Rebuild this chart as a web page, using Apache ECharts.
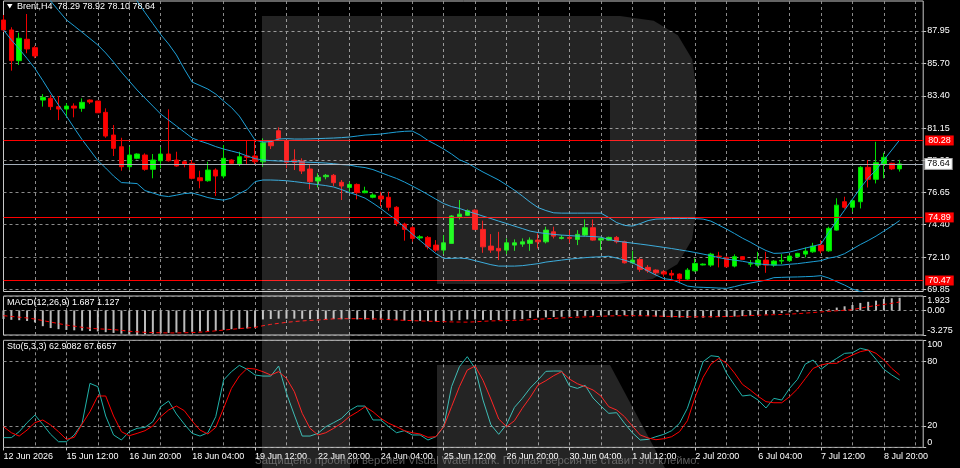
<!DOCTYPE html>
<html>
<head>
<meta charset="utf-8">
<title>Brent H4</title>
<script src="https://cdn.jsdelivr.net/npm/echarts@6/dist/echarts.min.js"></script>
<style>
  html, body { margin: 0; padding: 0; background: #000; }
  #chart { width: 960px; height: 468px; }
</style>
</head>
<body>
<div id="chart"></div>
<script>
// Brent H4 bars, first visible bar 12 Jun 04:00, last 9 Jul 04:00
var opens = [88.72,88.02,85.87,87.37,86.78,83.11,83.23,82.65,82.48,82.69,82.53,83.11,83.04,82.25,80.66,79.84,78.44,79.03,79.26,78.26,
  78.86,79.33,78.91,78.79,78.68,77.67,77.46,78.21,77.79,78.91,78.63,79.19,79.19,78.79,80.19,80.96,80.26,78.91,78.84,78.28,
  77.44,77.74,77.84,77.35,76.99,77.20,76.62,76.30,76.39,76.30,75.60,74.42,74.17,73.45,73.49,72.95,72.60,73.07,74.94,75.04,
  75.40,74.05,72.88,72.72,72.60,72.95,73.02,73.07,73.30,73.18,73.88,73.42,73.49,73.35,73.65,74.17,73.30,73.30,73.49,73.18,
  71.71,71.95,71.39,71.20,71.08,70.97,70.92,70.57,71.15,71.56,71.55,72.18,72.09,71.48,72.14,71.62,71.55,71.90,71.55,71.83,
  71.86,72.14,72.32,72.48,72.95,72.55,74.00,75.99,75.60,75.99,78.40,77.56,78.63,78.68,78.29];
var closes = [88.02,85.87,87.44,86.69,86.20,83.30,82.65,82.48,82.69,82.55,82.95,82.97,82.22,80.59,79.73,78.44,79.26,79.33,78.26,78.91,
  79.33,78.86,78.49,78.63,77.63,77.46,78.21,77.79,79.03,78.68,79.14,79.10,78.79,80.12,79.91,80.43,78.75,78.75,78.14,77.39,
  77.70,77.84,77.32,77.09,77.20,76.62,76.74,76.46,76.18,75.60,74.47,74.05,73.42,73.53,72.83,72.60,73.11,74.99,75.12,75.36,
  74.05,72.83,72.60,72.55,73.11,73.11,73.18,73.30,73.18,74.00,73.58,73.49,73.42,73.70,74.17,73.30,73.42,73.49,73.18,71.71,
  71.90,71.25,71.15,71.01,70.92,70.85,70.59,71.20,71.67,71.62,72.32,72.14,71.43,72.14,71.95,71.65,71.90,71.55,71.83,71.88,
  72.18,72.37,72.53,72.88,72.55,74.12,75.75,75.60,76.06,78.40,77.56,78.72,79.10,78.29,78.64];
var lows = [87.88,85.17,85.57,86.39,86.04,82.65,82.41,81.71,81.90,81.90,82.29,82.83,82.20,80.47,79.19,78.16,78.21,78.96,78.16,77.63,
  78.33,78.80,78.44,78.40,77.56,76.93,77.39,76.39,77.63,78.60,78.49,78.56,78.63,78.44,79.68,80.31,78.33,78.21,77.93,76.86,
  76.99,77.56,77.09,76.11,76.69,76.16,76.58,76.23,75.68,75.36,74.28,73.26,73.19,73.30,72.65,72.48,72.32,73.04,74.75,74.99,
  74.00,72.41,72.41,71.90,72.32,72.55,72.83,72.55,72.72,73.07,73.42,73.35,73.11,72.95,73.58,73.26,72.60,73.26,73.07,71.66,
  71.62,71.08,71.01,70.85,70.73,70.55,70.27,70.50,71.08,71.53,71.43,71.39,71.39,71.39,71.90,71.43,71.43,71.01,71.43,71.62,
  71.79,72.09,72.09,72.41,72.37,72.48,73.96,75.50,75.29,75.52,76.99,77.27,77.63,78.21,78.10];
var highs = [89.07,88.21,87.83,89.14,86.92,83.53,83.46,83.39,82.88,82.88,83.23,83.16,83.06,82.53,81.36,80.47,79.84,79.38,79.38,79.33,
  79.80,82.46,79.49,78.86,78.91,78.16,78.79,78.33,79.96,78.96,79.49,80.26,80.26,80.43,80.31,81.20,80.31,79.66,79.03,78.56,
  77.98,77.93,77.93,77.51,77.39,77.27,77.04,76.58,76.69,76.69,75.68,74.52,74.28,73.65,73.59,73.30,73.65,75.06,76.11,75.45,
  75.45,74.66,73.72,73.88,73.42,73.35,73.42,73.49,73.77,74.24,74.24,73.65,74.00,74.00,74.75,74.75,73.49,73.54,73.59,73.26,
  72.55,72.09,71.55,71.25,71.20,71.20,70.97,71.34,72.02,71.67,72.41,72.48,72.16,72.30,72.18,71.90,72.48,72.48,71.90,72.32,
  72.27,72.41,72.79,73.11,73.30,74.24,76.23,76.34,76.16,78.49,78.91,80.19,79.42,78.72,78.92];

// Bollinger Bands
var bbUpper = [97.3,97.2,97.1,96.9,96.7,96.5,96.2,95.8,95.4,95.0,94.6,94.1,93.6,93.0,92.3,91.6,90.85,90.05,89.24,88.47,
  87.70,87.04,86.27,85.28,84.37,84.13,83.88,83.53,83.04,82.59,81.99,81.15,80.31,80.17,80.20,80.38,80.41,80.38,80.38,80.39,
  80.41,80.43,80.45,80.48,80.52,80.59,80.66,80.69,80.73,80.80,80.87,80.92,80.94,80.66,80.28,79.99,79.68,79.33,78.93,78.70,
  78.38,78.07,77.79,77.51,77.16,76.80,76.39,75.96,75.58,75.37,75.21,75.19,75.19,75.19,75.19,75.19,75.19,74.88,74.53,74.33,
  74.28,74.46,74.67,74.77,74.79,74.81,74.81,74.82,74.81,74.77,74.63,74.35,74.07,73.76,73.44,73.16,72.85,72.57,72.37,72.39,
  72.46,72.60,72.74,72.87,73.02,73.86,74.63,75.40,76.17,76.94,77.65,78.21,78.91,79.61,80.31];
var bbMiddle = [93.8,93.3,92.8,92.2,91.5,90.8,90.05,89.38,88.73,88.30,87.86,87.42,86.97,86.41,85.77,85.07,84.44,83.81,83.25,82.69,
  82.13,81.71,81.29,80.87,80.45,80.24,80.06,79.85,79.68,79.54,79.40,79.19,79.01,78.91,78.87,78.84,78.82,78.80,78.77,78.75,
  78.73,78.70,78.65,78.59,78.56,78.45,78.38,78.24,78.03,77.82,77.62,77.37,77.09,76.80,76.49,76.17,75.86,75.65,75.52,75.33,
  75.16,74.98,74.81,74.63,74.46,74.28,74.11,73.93,73.83,73.76,73.70,73.65,73.62,73.58,73.57,73.55,73.51,73.34,73.23,73.16,
  73.09,73.02,72.95,72.87,72.79,72.71,72.62,72.53,72.43,72.32,72.21,72.07,71.97,71.90,71.82,71.72,71.64,71.58,71.55,71.55,
  71.61,71.65,71.72,71.79,71.86,72.04,72.14,72.35,72.67,72.99,73.27,73.58,73.93,74.28,74.67];
var bbLower = [88.02,87.32,86.69,86.02,85.32,84.48,83.60,82.76,81.99,81.15,80.34,79.61,78.87,78.35,77.79,77.33,77.30,77.26,76.77,76.60,
  76.42,76.35,76.45,76.56,76.60,76.45,76.28,76.17,76.10,76.24,76.56,76.84,77.40,77.51,77.51,77.49,77.46,77.40,77.33,77.26,
  77.19,77.12,77.02,76.84,76.63,76.45,76.24,75.89,75.51,75.09,74.70,74.21,73.72,73.27,72.81,72.36,72.02,72.02,72.04,72.00,
  71.86,71.72,71.58,71.48,71.48,71.48,71.51,71.58,71.65,71.76,71.83,71.90,71.97,72.02,72.07,72.11,72.13,72.17,72.04,71.90,
  71.72,71.44,71.13,70.85,70.60,70.53,70.32,70.08,70.01,69.99,69.97,69.94,69.92,70.04,70.18,70.29,70.39,70.50,70.67,70.69,
  70.71,70.72,70.74,70.76,70.81,70.64,70.39,70.15,69.87,69.70,69.55,69.40,69.25,69.12,69.03];

// MACD(12,26,9)
var macdMain = [-1.15,-1.25,-1.3,-1.4,-1.6,-2.1,-2.35,-2.5,-2.6,-2.65,-2.7,-2.75,-2.8,-2.9,-3.0,-3.1,-3.2,-3.275,-3.2,-3.12,
  -3.05,-3.0,-2.95,-2.9,-2.85,-2.8,-2.75,-2.7,-2.6,-2.5,-2.45,-2.4,-2.35,-1.2,-1.15,-1.1,-1.1,-1.1,-1.12,-1.15,
  -1.15,-1.15,-1.15,-1.18,-1.18,-1.2,-1.2,-1.22,-1.25,-1.28,-1.3,-1.35,-1.38,-1.4,-1.42,-1.45,-1.45,-1.35,-1.3,-1.2,
  -1.2,-1.25,-1.28,-1.28,-1.25,-1.2,-1.15,-1.0,-0.95,-0.92,-0.88,-0.85,-0.83,-0.78,-0.72,-0.70,-0.68,-0.64,-0.62,-0.64,
  -0.68,-0.72,-0.76,-0.82,-0.88,-0.92,-0.96,-1.0,-0.98,-0.96,-0.92,-0.88,-0.86,-0.8,-0.75,-0.7,-0.62,-0.55,-0.45,-0.35,
  -0.27,-0.18,-0.10,-0.05,0.05,0.15,0.38,0.55,0.72,1.0,1.15,1.30,1.55,1.62,1.687];
var macdSignal = [-0.7,-0.8,-0.9,-1.0,-1.15,-1.35,-1.55,-1.75,-1.95,-2.1,-2.25,-2.38,-2.45,-2.5,-2.56,-2.65,-2.78,-2.85,-2.92,-2.96,
  -2.98,-3.0,-3.0,-2.98,-2.95,-2.9,-2.82,-2.72,-2.62,-2.52,-2.42,-2.34,-2.26,-2.04,-1.86,-1.72,-1.59,-1.48,-1.4,-1.33,
  -1.28,-1.2,-1.12,-1.1,-1.1,-1.1,-1.1,-1.12,-1.16,-1.22,-1.28,-1.32,-1.36,-1.4,-1.43,-1.46,-1.5,-1.53,-1.55,-1.56,
  -1.52,-1.45,-1.4,-1.37,-1.35,-1.33,-1.3,-1.24,-1.17,-1.12,-1.06,-1.0,-0.95,-0.9,-0.86,-0.82,-0.78,-0.74,-0.71,-0.70,
  -0.70,-0.71,-0.72,-0.75,-0.78,-0.8,-0.82,-0.84,-0.85,-0.85,-0.84,-0.83,-0.82,-0.78,-0.72,-0.68,-0.64,-0.6,-0.57,-0.54,
  -0.49,-0.43,-0.36,-0.28,-0.2,-0.12,-0.05,0.02,0.1,0.3,0.5,0.65,0.8,0.95,1.127];

// Stochastic(5,3,3)
var stochK = [9.1,9.1,14.7,23.1,30.2,21.5,12.2,5.3,5.3,11.6,22.5,59.8,56.7,29.3,11.6,6.9,14.7,17.8,18.7,24.0,
  38.0,43.3,31.2,21.8,13.1,10.6,13.7,28.7,62.9,70.7,76.6,72.9,67.6,66.6,66.6,76.0,50.5,30.2,10.6,10.6,
  13.1,19.3,23.1,27.1,34.3,38.6,38.6,25.6,25.6,19.3,13.7,15.6,11.6,11.6,6.9,10.0,19.3,56.7,75.4,84.7,
  73.8,44.2,21.2,12.2,21.5,37.4,45.8,55.4,62.9,71.0,71.3,71.3,57.3,55.1,57.9,46.1,38.6,31.8,32.4,22.5,
  13.7,6.9,7.5,10.0,12.2,15.6,22.5,36.5,58.2,80.0,85.6,84.7,69.1,58.2,48.0,48.9,44.2,36.8,45.8,44.2,
  55.1,63.5,77.8,81.6,72.9,78.5,83.1,87.8,88.4,92.5,90.9,82.2,72.9,67.6,62.91];
var stochD = [19.3,13.7,10.6,16.2,23.1,25.6,20.9,14.7,7.5,9.4,21.8,33.3,48.0,48.0,29.3,14.7,10.9,13.1,15.6,20.0,
  28.7,34.9,38.6,34.3,24.6,16.2,12.5,18.7,36.5,55.1,66.6,73.8,73.2,70.7,67.6,70.7,64.5,52.0,31.8,17.8,
  11.6,13.7,17.8,22.5,28.7,33.0,38.0,33.3,27.1,22.5,19.3,15.6,13.7,12.5,9.4,10.0,19.3,38.0,56.7,72.2,
  76.0,62.6,45.2,26.5,19.3,24.9,36.5,46.7,58.2,62.3,67.0,70.7,63.8,59.5,56.7,53.6,48.0,38.0,34.9,28.7,
  20.0,11.6,8.8,7.2,8.1,10.0,14.7,24.9,47.3,65.4,77.8,83.1,78.5,69.4,58.9,53.6,47.7,42.7,41.7,41.7,
  47.3,54.5,64.2,73.8,76.9,78.5,78.5,82.8,86.2,89.4,90.9,87.8,81.6,73.8,67.67];

var priceTicks = [69.85, 72.10, 74.40, 76.65, 78.90, 81.15, 83.40, 85.70, 87.95];
var macdTicks = [-3.275, 0, 1.923];
var stochTicks = [0, 20, 80, 100];
var levelLines = [80.28, 74.89, 70.47];
var lastPrice = 78.64;
var timeLabelBars = [0, 8, 16, 24, 32, 40, 48, 56, 64, 72, 80, 88, 96, 104, 112];
var timeLabels = ['12 Jun 2026', '15 Jun 12:00', '16 Jun 20:00', '18 Jun 04:00', '19 Jun 12:00', '22 Jun 20:00',
  '24 Jun 04:00', '25 Jun 12:00', '26 Jun 20:00', '30 Jun 04:00', '1 Jul 12:00', '2 Jul 20:00',
  '6 Jul 04:00', '7 Jul 12:00', '8 Jul 20:00'];

var slotCount = 118; // 115 bars + empty space on the right
var slots = [];
for (var i = 0; i < slotCount; i++) slots.push(String(i));
var labelOf = {};
timeLabelBars.forEach(function (b, k) { labelOf[b] = timeLabels[k]; });

var candles = opens.map(function (o, k) { return [o, closes[k], lows[k], highs[k]]; });

var FONT = 'Liberation Sans, Arial, sans-serif';
var GRID_DASH = { color: '#8a8a8a', type: [3, 3], width: 1 };
var LEFT = 3.5, RIGHT = 36.8;
var SHADE = 'rgba(255,255,255,0.14)';

function vGrid(idx) { return idx > 0 && idx % 4 === 0; }
function isLabelBar(idx) { return labelOf[idx] !== undefined; }

function xAxisFor(gi, withLabels) {
  return {
    type: 'category', gridIndex: gi, data: slots, boundaryGap: false,
    axisLine: { show: false },
    axisTick: withLabels ? { show: true, length: 3, interval: isLabelBar, lineStyle: { color: '#c8c8c8' } } : { show: false },
    axisLabel: withLabels ? {
      show: true, interval: isLabelBar,
      formatter: function (v, idx) { return labelOf[idx] || ''; },
      align: 'left', margin: 5, color: '#ffffff', fontFamily: FONT, fontSize: 9
    } : { show: false },
    splitLine: { show: true, interval: vGrid, lineStyle: GRID_DASH }
  };
}

var levelData = levelLines.map(function (v) {
  return {
    yAxis: v,
    lineStyle: { color: '#ff0000', width: 1, type: 'solid' },
    label: { show: true, position: 'end', distance: 2, formatter: v.toFixed(2), color: '#ffffff',
      backgroundColor: '#ff0000', padding: [1, 3, 0, 3], fontFamily: FONT, fontSize: 9 }
  };
});
levelData.push({
  yAxis: lastPrice,
  lineStyle: { color: '#a3adb8', width: 1, type: 'solid' },
  label: { show: true, position: 'end', distance: 2, formatter: lastPrice.toFixed(2), color: '#000000',
    backgroundColor: '#ffffff', borderColor: '#a0a0a0', borderWidth: 1, padding: [1, 2, 0, 2],
    fontFamily: FONT, fontSize: 9 }
});

var chart = echarts.init(document.getElementById('chart'));
chart.setOption({
  animation: false,
  backgroundColor: '#000000',
  grid: [
    { left: LEFT, right: RIGHT, top: 1, height: 290.5, show: true, borderColor: '#c8c8c8', borderWidth: 1 },
    { left: LEFT, right: RIGHT, top: 296, height: 39, show: true, borderColor: '#c8c8c8', borderWidth: 1 },
    { left: LEFT, right: RIGHT, top: 340.3, height: 107.1, show: true, borderColor: '#c8c8c8', borderWidth: 1 }
  ],
  xAxis: [xAxisFor(0, false), xAxisFor(1, false), xAxisFor(2, true)],
  yAxis: [
    {
      type: 'value', gridIndex: 0, position: 'right', min: 69.70, max: 90.05,
      axisLine: { show: false },
      axisTick: { show: true, length: 3, customValues: priceTicks, lineStyle: { color: '#c8c8c8' } },
      axisLabel: { show: true, customValues: priceTicks, formatter: function (v) { return v.toFixed(2); },
        margin: 4, color: '#ffffff', fontFamily: FONT, fontSize: 9 },
      splitLine: { show: true, lineStyle: GRID_DASH }
    },
    {
      type: 'value', gridIndex: 1, position: 'right', min: -3.275, max: 1.923,
      axisLine: { show: false },
      axisTick: { show: true, length: 3, customValues: macdTicks, lineStyle: { color: '#c8c8c8' } },
      axisLabel: { show: true, customValues: macdTicks,
        formatter: function (v) { return v === 0 ? '0.00' : String(v); },
        verticalAlignMinLabel: 'bottom', verticalAlignMaxLabel: 'top',
        margin: 4, color: '#ffffff', fontFamily: FONT, fontSize: 9 },
      splitLine: { show: true, lineStyle: GRID_DASH }
    },
    {
      type: 'value', gridIndex: 2, position: 'right', min: 0, max: 100,
      axisLine: { show: false },
      axisTick: { show: true, length: 3, customValues: stochTicks, lineStyle: { color: '#c8c8c8' } },
      axisLabel: { show: true, customValues: stochTicks,
        verticalAlignMinLabel: 'bottom', verticalAlignMaxLabel: 'top',
        margin: 4, color: '#ffffff', fontFamily: FONT, fontSize: 9 },
      splitLine: { show: true, lineStyle: GRID_DASH }
    }
  ],
  series: [
    {
      name: 'Brent', type: 'candlestick', xAxisIndex: 0, yAxisIndex: 0, data: candles, barWidth: 5,
      itemStyle: { color: '#00ff00', color0: '#ff0000', borderColor: '#00dd00', borderColor0: '#ee0000', borderWidth: 1 },
      markLine: { silent: true, symbol: ['none', 'none'], animation: false, data: levelData }
    },
    { name: 'BB upper', type: 'line', xAxisIndex: 0, yAxisIndex: 0, data: bbUpper, symbol: 'none',
      lineStyle: { color: '#1d9fd6', width: 1 } },
    { name: 'BB middle', type: 'line', xAxisIndex: 0, yAxisIndex: 0, data: bbMiddle, symbol: 'none',
      lineStyle: { color: '#1d9fd6', width: 1 } },
    { name: 'BB lower', type: 'line', xAxisIndex: 0, yAxisIndex: 0, data: bbLower, symbol: 'none',
      lineStyle: { color: '#1d9fd6', width: 1 } },
    { name: 'MACD', type: 'bar', xAxisIndex: 1, yAxisIndex: 1, data: macdMain, barWidth: 2,
      itemStyle: { color: '#bdbdbd' } },
    { name: 'Signal', type: 'line', xAxisIndex: 1, yAxisIndex: 1, data: macdSignal, symbol: 'none',
      lineStyle: { color: '#ff0000', width: 1, type: [4, 3] } },
    { name: '%K', type: 'line', xAxisIndex: 2, yAxisIndex: 2, data: stochK, symbol: 'none',
      lineStyle: { color: '#20b2aa', width: 1 } },
    { name: '%D', type: 'line', xAxisIndex: 2, yAxisIndex: 2, data: stochD, symbol: 'none',
      lineStyle: { color: '#ff0000', width: 1 } }
  ],
  graphic: [
    { type: 'polygon', silent: true, z: 50, shape: { points: [[7, 4], [12.5, 4], [9.75, 8.5]] }, style: { fill: '#ffffff' } },
    { type: 'text', silent: true, z: 50, x: 17, y: 7,
      style: { text: 'Brent,H4  78.29 78.92 78.10 78.64', fill: '#ffffff', font: '9px ' + FONT, textVerticalAlign: 'middle' } },
    { type: 'text', silent: true, z: 50, x: 7, y: 303,
      style: { text: 'MACD(12,26,9) 1.687 1.127', fill: '#ffffff', font: '9px ' + FONT, textVerticalAlign: 'middle' } },
    { type: 'text', silent: true, z: 50, x: 7, y: 347,
      style: { text: 'Sto(5,3,3) 62.9082 67.6657', fill: '#ffffff', font: '9px ' + FONT, textVerticalAlign: 'middle' } },
    // watermark logo
    { type: 'rect', silent: true, z: 100, shape: { x: 262, y: 16, width: 88, height: 452 }, style: { fill: SHADE } },
    { type: 'rect', silent: true, z: 100, shape: { x: 350, y: 16, width: 260, height: 84 }, style: { fill: SHADE } },
    { type: 'polygon', silent: true, z: 100,
      shape: { points: [[610, 16], [620, 16], [653.7, 20.8], [677.8, 35.3], [692.2, 59.3], [697, 93], [697, 205],
        [692.1, 239.6], [677.3, 264.3], [652.6, 279.1], [618, 284], [610, 284]] },
      style: { fill: SHADE } },
    { type: 'rect', silent: true, z: 100, shape: { x: 437, y: 190, width: 173, height: 94 }, style: { fill: SHADE } },
    { type: 'polygon', silent: true, z: 100, shape: { points: [[437, 365], [610, 365], [665, 468], [437, 468]] },
      style: { fill: SHADE } },
    { type: 'text', silent: true, z: 100, x: 255, y: 461,
      style: { text: 'Защищено пробной версией Visual Watermark. Полная версия не ставит это клеймо.',
        fill: 'rgba(150,150,150,0.6)', font: '11.3px ' + FONT, textVerticalAlign: 'middle' } }
  ]
});
</script>
</body>
</html>
